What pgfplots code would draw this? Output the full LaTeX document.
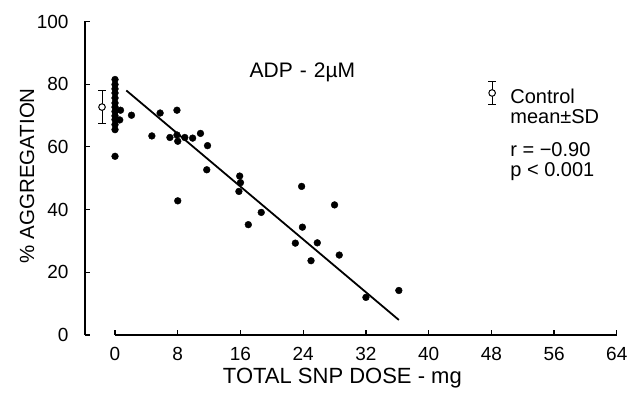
\documentclass[border=0pt]{standalone}
\usepackage{fontspec}
\setmainfont{Liberation Sans}
\usepackage{pgfplots}
\pgfplotsset{compat=1.18}
\begin{document}
\begin{tikzpicture}
\begin{axis}[
  scale only axis, width=531.8pt, height=313.5pt,
  xmin=-3.83, xmax=64, ymin=0, ymax=100,
  axis lines*=left,
  x axis line style={draw=none},
  y axis line style={line width=1.6pt},
  xtick={0,8,...,64}, ytick={0,20,...,100},
  tick align=inside, major tick length=5pt,
  every tick/.style={black, line width=1.2pt},
  every tick label/.append style={font=\fontsize{19}{21}\selectfont},
  every y tick label/.append style={xshift=-13pt},
  every x tick label/.append style={yshift=-9pt},
  clip=false,
  /pgf/number format/assume math mode=true,
]
\draw[line width=1.6pt] (axis cs:0,0) -- (axis cs:64,0);
\addplot[only marks, mark=*, mark size=3.4pt, black] coordinates {
(0,81.5) (0,79.9) (0,78.5) (0,77.2) (0,75.6) (0,74.0) (0,72.7) (0,71.3) (0,69.9) (0,68.7) (0,67.1) (0,65.5) (0,57.0)
(0.7,71.7) (0.6,68.6)
(2.1,70.1) (4.7,63.5) (5.75,70.8) (7.9,71.7) (7.0,63.0) (7.9,63.8) (8.0,61.8) (8.0,42.8)
(8.9,63.0) (9.9,62.8) (10.9,64.3) (11.8,60.4) (11.7,52.7)
(15.9,50.7) (16.0,48.6) (15.8,45.8) (17.0,35.2) (18.65,39.1)
(23.0,29.3) (23.8,47.4) (23.9,34.4) (25.0,23.7) (25.8,29.4) (28.0,41.5) (28.6,25.5)
(32.0,12.0) (36.2,14.2)
};
\addplot[black, line width=1.8pt] coordinates {(1.44,78.0) (36.2,4.8)};
\addplot[only marks, mark=*, mark size=3.3pt, black, mark options={fill=white, line width=1pt},
  error bars/.cd, y dir=both, y explicit,
  error mark options={rotate=90, mark size=4pt, line width=1pt},
  error bar style={line width=1pt}]
  coordinates {(-1.66,72.7) +- (0,5.3) (48.1,77.2) +- (0,3.6)};
\node[font=\fontsize{21}{24}\selectfont] at (axis cs:23.9,83.9) {ADP\,\,-\,\,2µM};
\node[anchor=west, inner sep=0pt, font=\fontsize{20}{22}\selectfont] at (axis cs:50.4,76.2) {Control};
\node[anchor=west, inner sep=0pt, font=\fontsize{20}{22}\selectfont] at (axis cs:50.4,69.5) {mean±SD};
\node[anchor=west, inner sep=0pt, font=\fontsize{20}{22}\selectfont] at (axis cs:50.4,59.1) {r = −0.90};
\node[anchor=west, inner sep=0pt, font=\fontsize{20}{22}\selectfont] at (axis cs:50.4,52.2) {p < 0.001};
\node[rotate=90, font=\fontsize{20.5}{23}\selectfont] at ([xshift=-58pt]axis cs:-3.83,50.8) {\% AGGREGATION};
\node[font=\fontsize{22}{24}\selectfont] at ([yshift=-43pt]axis cs:29,0) {TOTAL SNP DOSE - mg};
\coordinate (ll) at (rel axis cs:0,0);
\coordinate (ur) at (rel axis cs:1,1);
\end{axis}
\pgfresetboundingbox
\path ([shift={(-85pt,-60pt)}]ll) rectangle ([shift={(12.2pt,21.5pt)}]ur);
\end{tikzpicture}
\end{document}
